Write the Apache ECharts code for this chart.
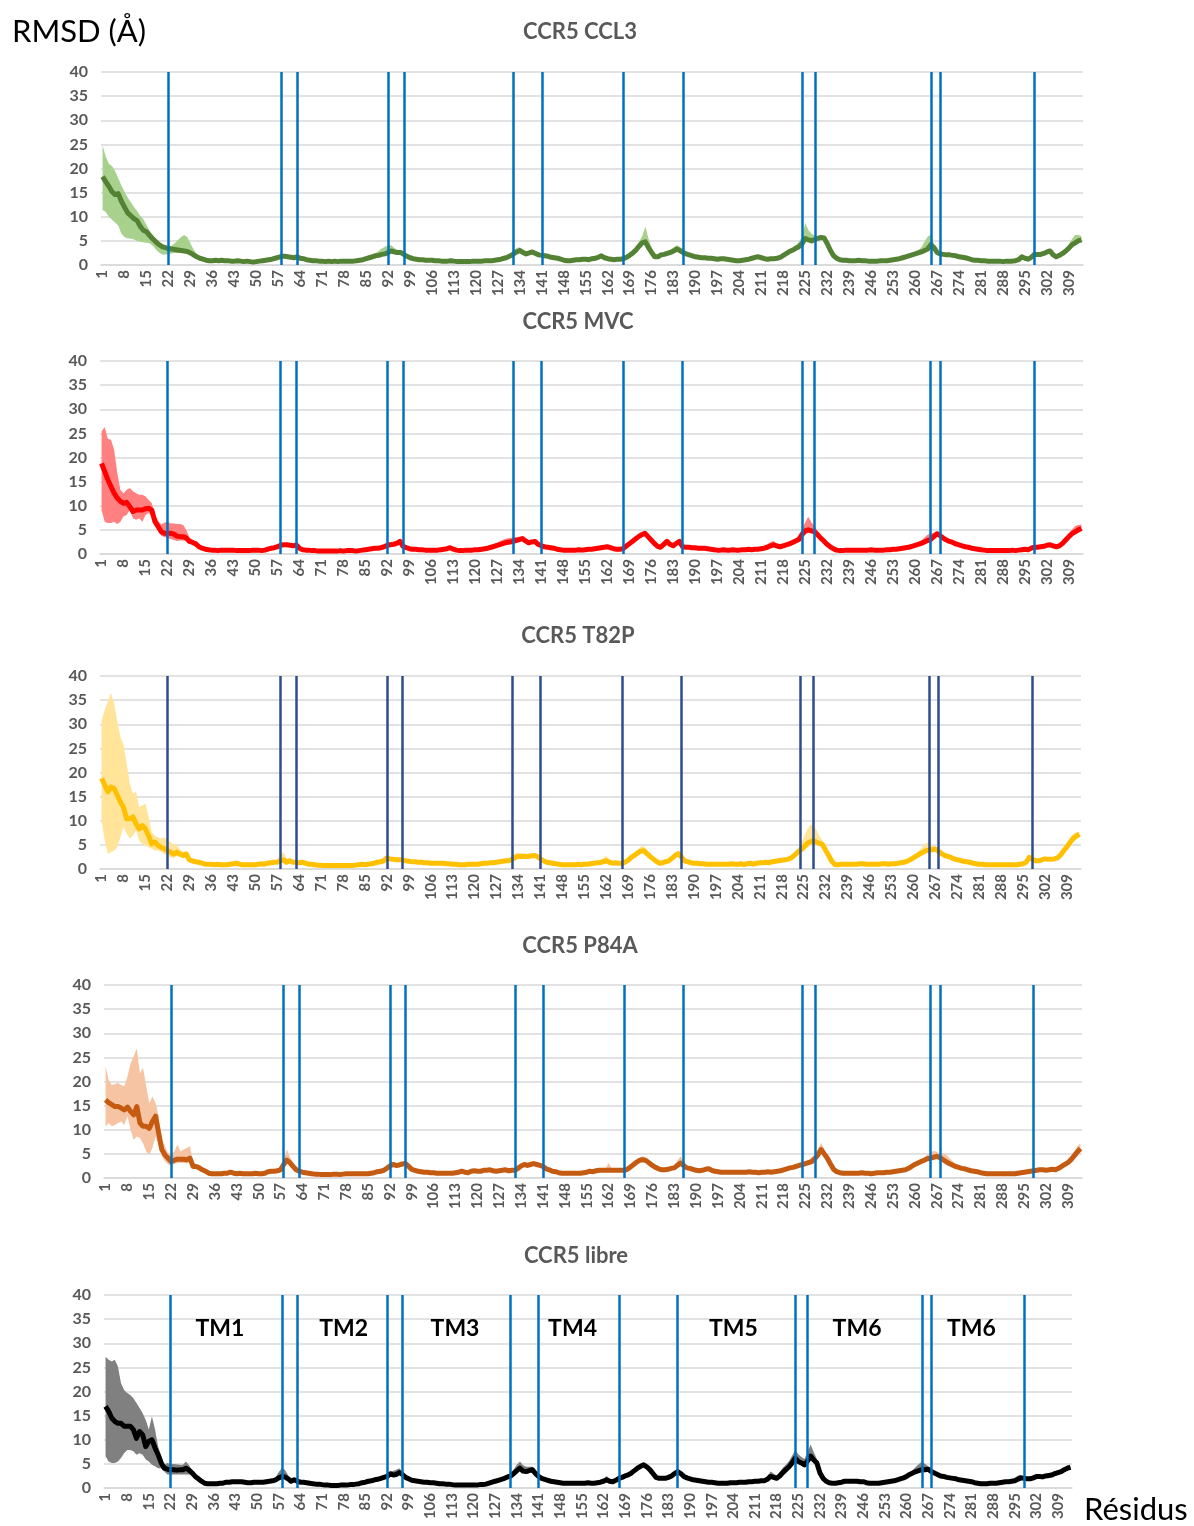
<!DOCTYPE html>
<html><head><meta charset="utf-8">
<script src="https://cdn.jsdelivr.net/npm/echarts/dist/echarts.min.js"></script>
<style>html,body{margin:0;padding:0;background:#fff}#c{width:1194px;height:1526px}</style>
</head><body><div id="c"></div>
<script>
// residue numbers (categories)
const residues = [];
for (let r = 1; r <= 313; r++) residues.push(String(r));

// TM boundary residues (vertical lines)
const tmBounds = [22, 58, 63, 92, 97, 132, 141, 167, 186, 224, 228, 265, 268, 298];
// TM labels (panel "CCR5 libre") and the residue they sit over
const tmNames = ['TM1','TM2','TM3','TM4','TM5','TM6','TM6'];
const tmAt = ['38','78','114','152','204','244','281'];
const tmLabelValue = 33;

// ---------- CCR5 CCL3 ----------
const ccl3 = [
18.3,17.3,16.3,15.2,14.6,14.8,13.2,12.0,10.8,10.2,
9.6,9.2,8.0,7.2,6.9,6.1,5.4,4.8,4.2,3.8,
3.6,3.4,3.3,3.2,3.1,3.0,2.9,2.8,2.5,2.1,
1.7,1.4,1.2,1.0,0.9,0.9,1.0,0.9,1.0,0.9,
0.9,0.8,0.8,0.9,0.8,0.7,0.8,0.7,0.6,0.7,
0.8,0.9,1.0,1.1,1.2,1.4,1.6,1.8,1.8,1.7,
1.6,1.5,1.7,1.4,1.3,1.1,1.0,0.9,0.9,0.8,
0.8,0.7,0.8,0.7,0.8,0.7,0.8,0.8,0.8,0.8,
0.8,0.9,1.0,1.1,1.3,1.5,1.7,1.9,2.0,2.2,
2.3,2.6,2.9,2.7,2.6,2.6,2.2,1.8,1.5,1.3,
1.2,1.1,1.1,1.0,1.0,1.0,0.9,0.9,0.8,0.8,
0.8,0.9,0.8,0.7,0.7,0.7,0.7,0.7,0.8,0.8,
0.8,0.8,0.9,0.9,0.9,1.0,1.1,1.2,1.4,1.6,
1.9,2.3,2.7,3.0,2.6,2.3,2.5,2.7,2.4,2.1,
2.0,1.9,1.8,1.6,1.5,1.4,1.2,1.0,0.9,0.9,
1.0,1.1,1.1,1.2,1.2,1.1,1.3,1.4,1.6,1.9,
1.5,1.3,1.2,1.1,1.2,1.2,1.3,1.6,2.0,2.5,
3.1,3.9,4.6,4.8,3.6,2.6,1.7,1.7,2.1,2.2,
2.4,2.6,2.9,3.3,3.0,2.6,2.3,2.1,1.9,1.7,
1.6,1.5,1.5,1.4,1.4,1.3,1.2,1.3,1.3,1.2,
1.1,1.0,0.9,0.9,1.0,1.1,1.2,1.4,1.6,1.7,
1.5,1.3,1.2,1.3,1.3,1.4,1.6,2.0,2.4,2.8,
3.1,3.5,3.8,4.5,5.5,5.2,5.0,5.3,5.5,5.7,
5.6,4.4,3.0,1.9,1.4,1.1,1.0,1.0,0.9,0.9,
0.9,1.0,0.9,0.9,0.8,0.8,0.8,0.8,0.9,0.9,
0.9,1.0,1.1,1.2,1.3,1.5,1.7,1.9,2.1,2.3,
2.5,2.7,3.0,3.3,4.2,3.6,2.6,2.3,2.2,2.1,
2.1,2.0,1.9,1.7,1.6,1.5,1.3,1.1,1.0,1.0,
0.9,0.9,0.8,0.8,0.8,0.8,0.8,0.7,0.8,0.8,
0.8,0.9,1.1,1.7,1.4,1.2,1.6,2.2,2.2,2.2,
2.4,2.7,2.9,2.1,1.7,2.0,2.4,2.9,3.5,4.2,
4.6,5.0,5.2];
const ccl3Hi = [
6.5,5.2,4.7,5.3,4.9,3.2,3.3,3.2,3.2,2.8,
2.4,2.0,2.2,2.3,1.4,1.0,0.8,0.6,0.5,0.4,
0.3,0.4,0.7,1.3,2.1,2.8,3.3,3.0,2.0,1.1,
0.6,0.4,0.3,0.3,0.3,0.3,0.3,0.3,0.3,0.3,
0.3,0.3,0.3,0.3,0.3,0.3,0.3,0.3,0.3,0.3,
0.3,0.3,0.3,0.3,0.3,0.3,0.3,0.4,0.4,0.3,
0.3,0.3,0.3,0.3,0.3,0.3,0.3,0.3,0.3,0.3,
0.3,0.3,0.3,0.3,0.3,0.3,0.3,0.3,0.3,0.3,
0.3,0.3,0.3,0.4,0.4,0.5,0.6,0.6,0.9,1.2,
1.5,1.5,1.2,0.8,0.5,0.4,0.3,0.3,0.3,0.3,
0.3,0.3,0.3,0.3,0.3,0.3,0.3,0.3,0.3,0.3,
0.3,0.3,0.3,0.3,0.3,0.3,0.3,0.3,0.3,0.3,
0.3,0.3,0.3,0.3,0.3,0.3,0.3,0.3,0.3,0.3,
0.4,0.6,0.8,0.7,0.6,0.5,0.4,0.4,0.3,0.3,
0.3,0.3,0.3,0.3,0.3,0.3,0.3,0.3,0.3,0.3,
0.3,0.3,0.3,0.3,0.3,0.3,0.3,0.3,0.3,0.3,
0.3,0.3,0.3,0.3,0.3,0.3,0.3,0.3,0.4,0.6,
0.6,0.9,1.4,3.2,1.9,1.0,0.5,0.4,0.3,0.3,
0.4,0.6,0.8,0.8,0.8,0.7,0.5,0.4,0.3,0.3,
0.3,0.3,0.3,0.3,0.3,0.3,0.3,0.3,0.3,0.3,
0.3,0.3,0.3,0.3,0.3,0.3,0.3,0.3,0.3,0.3,
0.3,0.3,0.3,0.3,0.3,0.3,0.3,0.3,0.4,0.5,
0.5,0.6,1.0,1.5,3.2,2.0,1.5,0.8,0.5,0.4,
0.3,0.3,0.3,0.3,0.3,0.3,0.3,0.3,0.3,0.3,
0.3,0.3,0.3,0.3,0.3,0.3,0.3,0.3,0.3,0.3,
0.3,0.3,0.3,0.3,0.3,0.3,0.3,0.3,0.3,0.3,
0.6,1.0,1.8,2.6,2.0,0.8,0.4,0.3,0.3,0.3,
0.3,0.3,0.3,0.3,0.3,0.3,0.3,0.3,0.3,0.3,
0.3,0.3,0.3,0.3,0.3,0.3,0.3,0.3,0.3,0.3,
0.3,0.3,0.3,0.3,0.3,0.3,0.3,0.3,0.3,0.3,
0.3,0.3,0.3,0.3,0.3,0.3,0.4,0.5,0.8,1.2,
1.6,1.2,0.8];
const ccl3Lo = [
6.9,6.3,6.3,5.8,5.8,6.6,6.7,6.2,5.3,4.7,
4.3,4.2,3.2,2.5,2.3,1.6,1.4,1.6,1.6,1.6,
1.4,1.1,0.9,0.7,0.6,0.5,0.4,0.3,0.3,0.3,
0.3,0.3,0.3,0.3,0.3,0.3,0.3,0.3,0.3,0.3,
0.3,0.3,0.3,0.3,0.3,0.3,0.3,0.3,0.3,0.3,
0.3,0.3,0.3,0.3,0.3,0.3,0.3,0.3,0.3,0.3,
0.3,0.3,0.3,0.3,0.3,0.3,0.3,0.3,0.3,0.3,
0.3,0.3,0.3,0.3,0.3,0.3,0.3,0.3,0.3,0.3,
0.3,0.3,0.3,0.3,0.3,0.3,0.3,0.3,0.3,0.3,
0.3,0.3,0.3,0.3,0.3,0.3,0.3,0.3,0.3,0.3,
0.3,0.3,0.3,0.3,0.3,0.3,0.3,0.3,0.3,0.3,
0.3,0.3,0.3,0.3,0.3,0.3,0.3,0.3,0.3,0.3,
0.3,0.3,0.3,0.3,0.3,0.3,0.3,0.3,0.3,0.3,
0.3,0.3,0.3,0.3,0.3,0.3,0.3,0.3,0.3,0.3,
0.3,0.3,0.3,0.3,0.3,0.3,0.3,0.3,0.3,0.3,
0.3,0.3,0.3,0.3,0.3,0.3,0.3,0.3,0.3,0.3,
0.3,0.3,0.3,0.3,0.3,0.3,0.3,0.3,0.3,0.3,
0.3,0.3,0.3,0.3,0.3,0.3,0.3,0.3,0.3,0.3,
0.3,0.3,0.3,0.3,0.3,0.3,0.3,0.3,0.3,0.3,
0.3,0.3,0.3,0.3,0.3,0.3,0.3,0.3,0.3,0.3,
0.3,0.3,0.3,0.3,0.3,0.3,0.3,0.3,0.3,0.3,
0.3,0.3,0.3,0.3,0.3,0.3,0.3,0.3,0.3,0.3,
0.3,0.3,0.3,0.3,0.3,0.3,0.3,0.3,0.3,0.3,
0.3,0.3,0.3,0.3,0.3,0.3,0.3,0.3,0.3,0.3,
0.3,0.3,0.3,0.3,0.3,0.3,0.3,0.3,0.3,0.3,
0.3,0.3,0.3,0.3,0.3,0.3,0.3,0.3,0.3,0.3,
0.3,0.3,0.3,0.3,0.3,0.3,0.3,0.3,0.3,0.3,
0.3,0.3,0.3,0.3,0.3,0.3,0.3,0.3,0.3,0.3,
0.3,0.3,0.3,0.3,0.3,0.3,0.3,0.3,0.3,0.3,
0.3,0.3,0.3,0.3,0.3,0.3,0.3,0.3,0.3,0.3,
0.3,0.3,0.3,0.3,0.3,0.3,0.3,0.3,0.3,0.3,
0.3,0.3,0.3];

// ---------- CCR5 MVC ----------
const mvc = [
18.8,17.1,15.4,14.0,12.6,11.6,10.9,10.5,10.7,9.8,
8.8,9.1,9.1,9.1,9.4,9.5,9.1,6.7,5.7,4.6,
4.3,4.3,4.3,4.1,3.7,3.6,3.6,3.3,2.6,2.4,
2.1,1.5,1.2,1.0,0.9,0.8,0.8,0.7,0.8,0.8,
0.8,0.8,0.8,0.7,0.7,0.7,0.7,0.7,0.8,0.8,
0.8,0.7,0.8,1.0,1.2,1.3,1.5,1.8,1.9,1.9,
1.8,1.7,1.9,1.2,0.9,0.8,0.8,0.7,0.7,0.6,
0.6,0.6,0.6,0.6,0.6,0.6,0.7,0.6,0.7,0.7,
0.7,0.6,0.7,0.8,0.9,1.0,1.1,1.2,1.2,1.3,
1.5,1.8,1.9,2.0,2.2,2.6,1.6,1.3,1.1,1.0,
1.0,0.9,0.9,0.8,0.8,0.8,0.8,0.8,0.9,1.0,
1.1,1.3,1.0,0.8,0.7,0.7,0.8,0.8,0.8,0.9,
0.9,1.0,1.1,1.2,1.4,1.6,1.8,2.0,2.2,2.4,
2.5,2.6,2.8,3.0,3.2,2.7,2.3,2.5,2.6,2.0,
1.7,1.5,1.4,1.3,1.2,1.0,0.9,0.8,0.8,0.8,
0.8,0.8,0.9,0.8,0.9,1.0,1.0,1.1,1.2,1.3,
1.4,1.5,1.3,1.1,1.0,1.0,1.1,1.6,2.1,2.6,
3.1,3.6,4.0,4.3,3.6,2.9,2.2,1.6,1.4,2.0,
2.6,2.0,1.7,2.2,2.6,1.5,1.4,1.4,1.3,1.3,
1.2,1.2,1.2,1.1,1.0,0.9,0.8,0.8,0.9,0.8,
0.8,0.9,0.8,0.8,0.9,0.9,1.0,0.9,1.0,1.0,
1.1,1.2,1.4,1.7,1.9,1.7,1.5,1.7,1.9,2.1,
2.4,2.7,3.0,4.0,4.8,5.0,4.8,4.6,4.0,3.3,
2.7,2.0,1.5,1.1,0.8,0.7,0.7,0.8,0.8,0.8,
0.8,0.8,0.8,0.8,0.8,0.9,0.8,0.8,0.8,0.8,
0.9,0.9,1.0,1.0,1.1,1.2,1.3,1.4,1.6,1.8,
2.0,2.2,2.5,2.8,3.0,3.6,4.2,3.8,3.3,2.9,
2.6,2.4,2.1,1.9,1.7,1.5,1.4,1.2,1.1,1.0,
0.9,0.8,0.7,0.7,0.7,0.7,0.7,0.7,0.7,0.7,
0.8,0.7,0.8,0.9,1.0,0.9,1.2,1.4,1.4,1.5,
1.6,1.8,1.9,1.7,1.5,1.7,2.2,2.9,3.6,4.2,
4.6,5.0,5.3];
const mvcHi = [
6.6,9.2,8.5,9.7,9.0,5.2,2.4,2.1,2.6,3.9,
4.2,3.5,3.2,3.2,2.5,1.7,1.4,1.4,1.2,1.5,
2.2,2.4,2.0,2.2,2.5,2.6,2.4,1.6,0.8,0.5,
0.3,0.3,0.3,0.3,0.3,0.3,0.3,0.3,0.3,0.3,
0.3,0.3,0.3,0.3,0.3,0.3,0.3,0.3,0.3,0.3,
0.3,0.3,0.3,0.3,0.3,0.3,0.3,0.3,0.3,0.3,
0.3,0.3,0.3,0.3,0.3,0.3,0.3,0.3,0.3,0.3,
0.3,0.3,0.3,0.3,0.3,0.3,0.3,0.3,0.3,0.3,
0.3,0.3,0.3,0.3,0.3,0.3,0.3,0.3,0.3,0.3,
0.4,0.5,0.6,0.6,0.6,0.5,0.4,0.3,0.3,0.3,
0.3,0.3,0.3,0.3,0.3,0.3,0.3,0.3,0.3,0.3,
0.3,0.3,0.3,0.3,0.3,0.3,0.3,0.3,0.3,0.3,
0.3,0.3,0.3,0.3,0.4,0.5,0.6,0.7,0.8,0.8,
0.8,0.8,0.7,0.6,0.4,0.4,0.3,0.3,0.3,0.3,
0.3,0.3,0.3,0.3,0.3,0.3,0.3,0.3,0.3,0.3,
0.3,0.3,0.3,0.3,0.3,0.3,0.3,0.3,0.3,0.3,
0.3,0.3,0.3,0.3,0.3,0.3,0.3,0.3,0.3,0.3,
0.3,0.3,0.3,0.4,0.3,0.3,0.3,0.3,0.3,0.5,
0.5,0.5,0.3,0.4,0.4,0.3,0.3,0.3,0.3,0.3,
0.3,0.3,0.3,0.3,0.3,0.3,0.3,0.3,0.3,0.3,
0.3,0.3,0.3,0.3,0.3,0.3,0.3,0.3,0.3,0.3,
0.3,0.4,0.6,0.8,0.8,0.5,0.3,0.3,0.3,0.4,
0.4,0.5,0.8,1.2,1.7,2.7,1.8,1.2,0.8,0.5,
0.3,0.3,0.3,0.3,0.3,0.3,0.3,0.3,0.3,0.3,
0.3,0.3,0.3,0.3,0.3,0.3,0.3,0.3,0.3,0.3,
0.3,0.3,0.3,0.3,0.3,0.3,0.3,0.3,0.3,0.3,
0.4,0.6,0.9,1.2,1.2,0.8,0.4,0.3,0.3,0.3,
0.3,0.3,0.3,0.3,0.3,0.3,0.3,0.3,0.3,0.3,
0.3,0.3,0.3,0.3,0.3,0.3,0.3,0.3,0.3,0.3,
0.3,0.3,0.3,0.3,0.3,0.3,0.3,0.3,0.3,0.3,
0.3,0.3,0.3,0.3,0.3,0.3,0.4,0.5,0.7,0.9,
1.2,1.0,0.8];
const mvcLo = [
9.7,10.4,9.0,7.6,5.9,5.4,4.2,2.7,2.6,0.7,
1.4,2.0,1.7,2.4,1.3,1.0,1.3,1.0,0.8,0.8,
0.8,1.0,1.2,1.2,1.0,0.8,0.8,0.6,0.4,0.3,
0.3,0.3,0.3,0.3,0.3,0.3,0.3,0.3,0.3,0.3,
0.3,0.3,0.3,0.3,0.3,0.3,0.3,0.3,0.3,0.3,
0.3,0.3,0.3,0.3,0.3,0.3,0.3,0.3,0.3,0.3,
0.3,0.3,0.3,0.3,0.3,0.3,0.3,0.3,0.3,0.3,
0.3,0.3,0.3,0.3,0.3,0.3,0.3,0.3,0.3,0.3,
0.3,0.3,0.3,0.3,0.3,0.3,0.3,0.3,0.3,0.3,
0.3,0.3,0.3,0.3,0.3,0.3,0.3,0.3,0.3,0.3,
0.3,0.3,0.3,0.3,0.3,0.3,0.3,0.3,0.3,0.3,
0.3,0.3,0.3,0.3,0.3,0.3,0.3,0.3,0.3,0.3,
0.3,0.3,0.3,0.3,0.3,0.3,0.3,0.3,0.3,0.3,
0.3,0.3,0.3,0.3,0.3,0.3,0.3,0.3,0.3,0.3,
0.3,0.3,0.3,0.3,0.3,0.3,0.3,0.3,0.3,0.3,
0.3,0.3,0.3,0.3,0.3,0.3,0.3,0.3,0.3,0.3,
0.3,0.3,0.3,0.3,0.3,0.3,0.3,0.3,0.3,0.3,
0.3,0.3,0.3,0.3,0.3,0.3,0.3,0.3,0.3,0.3,
0.3,0.3,0.3,0.3,0.3,0.3,0.3,0.3,0.3,0.3,
0.3,0.3,0.3,0.3,0.3,0.3,0.3,0.3,0.3,0.3,
0.3,0.3,0.3,0.3,0.3,0.3,0.3,0.3,0.3,0.3,
0.3,0.3,0.3,0.3,0.3,0.3,0.3,0.3,0.3,0.3,
0.3,0.3,0.3,0.6,0.8,0.6,0.4,0.3,0.3,0.3,
0.3,0.3,0.3,0.3,0.3,0.3,0.3,0.3,0.3,0.3,
0.3,0.3,0.3,0.3,0.3,0.3,0.3,0.3,0.3,0.3,
0.3,0.3,0.3,0.3,0.3,0.3,0.3,0.3,0.3,0.3,
0.3,0.3,0.3,0.3,0.3,0.3,0.3,0.3,0.3,0.3,
0.3,0.3,0.3,0.3,0.3,0.3,0.3,0.3,0.3,0.3,
0.3,0.3,0.3,0.3,0.3,0.3,0.3,0.3,0.3,0.3,
0.3,0.3,0.3,0.3,0.3,0.3,0.3,0.3,0.3,0.3,
0.3,0.3,0.3,0.3,0.3,0.3,0.3,0.3,0.3,0.3,
0.3,0.3,0.3];

// ---------- CCR5 T82P ----------
const t82p = [
18.8,17.4,16.0,17.0,16.7,15.3,13.9,12.8,10.4,10.4,
10.8,9.4,8.3,9.0,8.3,6.9,5.2,5.6,4.9,4.5,
4.2,3.8,3.5,3.1,3.5,3.1,2.8,3.1,1.9,1.7,
1.5,1.4,1.2,1.0,1.0,1.0,0.9,1.0,0.9,0.9,
0.9,1.0,1.1,1.2,1.0,0.9,0.9,0.9,0.9,0.9,
1.0,1.1,1.0,1.2,1.3,1.4,1.4,1.7,1.9,1.4,
1.7,1.4,1.4,1.3,1.4,1.2,1.0,1.0,0.9,0.8,
0.8,0.7,0.7,0.7,0.7,0.7,0.7,0.7,0.7,0.7,
0.7,0.8,0.9,1.0,0.9,1.0,1.1,1.2,1.4,1.5,
1.7,2.3,2.1,2.0,1.9,1.9,1.9,1.7,1.6,1.5,
1.5,1.4,1.4,1.3,1.3,1.2,1.2,1.2,1.2,1.2,
1.1,1.1,1.0,1.0,0.9,0.9,0.9,1.0,1.0,1.0,
1.0,1.1,1.2,1.2,1.3,1.3,1.4,1.5,1.6,1.7,
1.7,2.0,2.4,2.6,2.6,2.6,2.6,2.7,2.8,2.6,
2.1,1.7,1.4,1.3,1.2,1.1,1.0,0.9,0.9,0.9,
0.9,0.9,1.0,0.9,1.0,1.0,1.1,1.2,1.3,1.3,
1.5,1.7,1.4,1.2,1.3,1.2,1.2,1.4,1.8,2.4,
2.8,3.3,3.7,3.8,3.2,2.6,2.1,1.6,1.2,1.3,
1.5,1.7,2.2,2.8,3.2,2.5,1.7,1.5,1.3,1.2,
1.2,1.1,1.1,1.0,1.0,1.0,1.0,1.0,1.0,1.0,
1.0,1.1,1.0,1.0,1.1,0.9,1.1,1.2,1.0,1.2,
1.3,1.3,1.4,1.3,1.5,1.6,1.7,1.8,1.9,2.0,
2.3,2.8,3.4,3.9,4.5,5.2,5.6,5.9,5.6,5.3,
5.1,3.9,2.8,1.6,0.9,0.9,1.0,1.0,1.0,1.0,
1.0,1.0,1.1,1.1,1.0,1.0,1.0,1.0,1.0,1.1,
1.1,1.0,1.1,1.1,1.2,1.3,1.4,1.6,1.9,2.3,
2.7,3.1,3.4,3.8,3.9,4.0,4.1,3.7,3.2,2.8,
2.6,2.4,2.1,1.9,1.8,1.6,1.5,1.4,1.2,1.1,
1.0,1.0,0.9,0.9,0.9,0.9,0.9,0.9,0.9,0.9,
0.9,0.9,0.9,1.0,1.1,1.4,2.4,2.0,1.7,1.7,
1.9,2.1,2.0,2.0,2.1,2.3,2.9,3.8,4.6,5.5,
6.3,6.8,7.2];
const t82pHi = [
12.0,15.6,18.7,19.5,17.7,15.3,13.5,12.9,11.5,7.3,
4.8,6.6,4.5,4.2,5.2,3.9,2.4,1.3,1.7,1.8,
2.4,2.1,2.1,2.1,1.4,1.0,0.8,0.6,0.4,0.3,
0.3,0.3,0.3,0.3,0.3,0.3,0.3,0.3,0.3,0.3,
0.3,0.3,0.3,0.3,0.3,0.3,0.3,0.3,0.3,0.3,
0.3,0.3,0.3,0.3,0.3,0.3,0.5,1.2,1.6,0.8,
0.3,0.3,0.3,0.3,0.3,0.3,0.3,0.3,0.3,0.3,
0.3,0.3,0.3,0.3,0.3,0.3,0.3,0.3,0.3,0.3,
0.3,0.3,0.3,0.3,0.3,0.3,0.3,0.3,0.3,0.3,
0.3,0.5,0.4,0.3,0.3,0.3,0.3,0.3,0.3,0.3,
0.3,0.3,0.3,0.3,0.3,0.3,0.3,0.3,0.3,0.3,
0.3,0.3,0.3,0.3,0.3,0.3,0.3,0.3,0.3,0.3,
0.3,0.3,0.3,0.3,0.3,0.3,0.3,0.3,0.3,0.3,
0.5,0.7,0.8,0.8,0.7,0.6,0.5,0.5,0.4,0.3,
0.3,0.3,0.3,0.3,0.3,0.3,0.3,0.3,0.3,0.3,
0.3,0.3,0.3,0.3,0.3,0.3,0.3,0.3,0.3,0.3,
0.6,1.1,0.6,0.3,0.3,0.3,0.3,0.3,0.3,0.3,
0.4,0.6,0.9,1.0,0.7,0.4,0.3,0.3,0.3,0.3,
0.3,0.3,0.4,0.5,0.4,0.3,0.3,0.3,0.3,0.3,
0.3,0.3,0.3,0.3,0.3,0.3,0.3,0.3,0.3,0.3,
0.3,0.3,0.3,0.3,0.3,0.3,0.3,0.3,0.3,0.3,
0.3,0.3,0.3,0.3,0.3,0.3,0.3,0.3,0.3,0.3,
0.3,0.5,0.8,1.2,2.0,2.8,3.4,3.4,2.6,1.6,
0.8,0.4,0.3,0.3,0.3,0.3,0.3,0.3,0.3,0.3,
0.3,0.3,0.3,0.3,0.3,0.3,0.3,0.3,0.3,0.3,
0.3,0.3,0.3,0.3,0.3,0.3,0.3,0.3,0.3,0.3,
0.5,0.8,1.2,1.6,1.6,1.0,0.6,0.4,0.3,0.3,
0.3,0.3,0.3,0.3,0.3,0.3,0.3,0.3,0.3,0.3,
0.3,0.3,0.3,0.3,0.3,0.3,0.3,0.3,0.3,0.3,
0.3,0.3,0.3,0.3,0.3,0.4,0.6,0.4,0.3,0.3,
0.3,0.3,0.3,0.3,0.3,0.3,0.4,0.5,0.7,0.9,
1.0,0.8,0.5];
const t82pLo = [
8.8,11.5,12.9,13.5,12.9,10.8,7.3,4.1,3.1,4.1,
3.9,1.4,2.4,3.8,3.4,2.4,1.0,1.8,1.0,1.0,
1.1,1.0,1.1,0.8,0.8,0.6,0.5,0.5,0.3,0.3,
0.3,0.3,0.3,0.3,0.3,0.3,0.3,0.3,0.3,0.3,
0.3,0.3,0.3,0.3,0.3,0.3,0.3,0.3,0.3,0.3,
0.3,0.3,0.3,0.3,0.3,0.3,0.3,0.3,0.3,0.3,
0.3,0.3,0.3,0.3,0.3,0.3,0.3,0.3,0.3,0.3,
0.3,0.3,0.3,0.3,0.3,0.3,0.3,0.3,0.3,0.3,
0.3,0.3,0.3,0.3,0.3,0.3,0.3,0.3,0.3,0.3,
0.3,0.3,0.3,0.3,0.3,0.3,0.3,0.3,0.3,0.3,
0.3,0.3,0.3,0.3,0.3,0.3,0.3,0.3,0.3,0.3,
0.3,0.3,0.3,0.3,0.3,0.3,0.3,0.3,0.3,0.3,
0.3,0.3,0.3,0.3,0.3,0.3,0.3,0.3,0.3,0.3,
0.3,0.3,0.3,0.3,0.3,0.3,0.3,0.3,0.3,0.3,
0.3,0.3,0.3,0.3,0.3,0.3,0.3,0.3,0.3,0.3,
0.3,0.3,0.3,0.3,0.3,0.3,0.3,0.3,0.3,0.3,
0.3,0.3,0.3,0.3,0.3,0.3,0.3,0.3,0.3,0.3,
0.3,0.3,0.3,0.3,0.3,0.3,0.3,0.3,0.3,0.3,
0.3,0.3,0.3,0.3,0.3,0.3,0.3,0.3,0.3,0.3,
0.3,0.3,0.3,0.3,0.3,0.3,0.3,0.3,0.3,0.3,
0.3,0.3,0.3,0.3,0.3,0.3,0.3,0.3,0.3,0.3,
0.3,0.3,0.3,0.3,0.3,0.3,0.3,0.3,0.3,0.3,
0.3,0.3,0.4,0.6,0.8,0.9,0.8,0.6,0.4,0.3,
0.3,0.3,0.3,0.3,0.3,0.3,0.3,0.3,0.3,0.3,
0.3,0.3,0.3,0.3,0.3,0.3,0.3,0.3,0.3,0.3,
0.3,0.3,0.3,0.3,0.3,0.3,0.3,0.3,0.3,0.3,
0.3,0.3,0.3,0.3,0.3,0.3,0.3,0.3,0.3,0.3,
0.3,0.3,0.3,0.3,0.3,0.3,0.3,0.3,0.3,0.3,
0.3,0.3,0.3,0.3,0.3,0.3,0.3,0.3,0.3,0.3,
0.3,0.3,0.3,0.3,0.3,0.3,0.3,0.3,0.3,0.3,
0.3,0.3,0.3,0.3,0.3,0.3,0.3,0.3,0.3,0.3,
0.3,0.3,0.3];

// ---------- CCR5 P84A ----------
const p84a = [
16.2,15.6,15.2,14.8,14.8,14.5,14.1,14.7,13.8,13.1,
14.8,11.4,10.7,10.7,10.3,11.7,12.8,9.3,5.9,4.8,
4.1,3.4,3.7,3.9,3.9,3.9,3.8,4.1,2.4,2.4,
2.1,1.7,1.4,1.0,0.9,0.9,0.9,0.9,1.0,1.0,
1.2,1.0,0.9,1.0,0.9,0.9,0.9,0.9,1.0,0.9,
0.9,1.0,1.3,1.4,1.4,1.5,1.7,2.8,3.7,3.2,
2.4,1.7,1.4,1.2,1.1,1.0,0.9,0.8,0.8,0.7,
0.7,0.7,0.7,0.8,0.8,0.7,0.8,0.9,0.9,0.9,
0.9,0.9,0.9,0.9,0.9,1.0,1.1,1.3,1.4,1.6,
2.0,2.5,2.8,2.6,2.7,2.9,3.0,2.4,1.8,1.6,
1.4,1.3,1.2,1.2,1.1,1.1,1.0,1.0,1.0,1.0,
1.0,1.0,1.1,1.2,1.4,1.2,1.1,1.4,1.5,1.4,
1.4,1.6,1.6,1.7,1.5,1.4,1.5,1.6,1.7,1.5,
1.6,1.6,2.0,2.5,2.8,2.6,2.8,3.0,2.8,2.6,
2.4,1.9,1.7,1.4,1.3,1.1,1.0,1.0,1.0,1.0,
1.0,1.0,1.0,1.1,1.2,1.4,1.3,1.5,1.6,1.6,
1.6,1.6,1.6,1.6,1.6,1.6,1.6,1.8,2.3,2.8,
3.3,3.7,3.8,3.6,3.1,2.6,2.2,1.9,1.7,1.7,
1.8,2.0,2.1,2.6,3.1,2.6,2.1,2.0,1.8,1.6,
1.5,1.6,1.8,1.9,1.6,1.4,1.3,1.2,1.2,1.2,
1.2,1.2,1.2,1.2,1.2,1.2,1.3,1.2,1.2,1.1,
1.2,1.2,1.3,1.2,1.3,1.4,1.5,1.7,1.9,2.1,
2.2,2.4,2.6,2.8,3.0,3.2,3.4,4.0,4.8,5.9,
5.0,4.1,2.9,1.8,1.3,1.1,1.0,1.0,1.0,1.0,
1.0,1.0,1.1,1.0,1.0,0.9,1.0,1.1,1.1,1.1,
1.2,1.2,1.3,1.4,1.5,1.6,1.7,2.0,2.4,2.8,
3.1,3.4,3.7,4.0,4.1,4.3,4.5,4.2,3.8,3.4,
3.0,2.7,2.4,2.2,2.0,1.9,1.7,1.5,1.4,1.3,
1.1,1.0,0.9,0.9,0.9,0.9,0.9,0.9,0.9,0.9,
0.9,0.9,1.0,1.1,1.2,1.3,1.4,1.5,1.6,1.7,
1.7,1.6,1.7,1.8,1.7,2.0,2.4,2.8,3.2,3.8,
4.6,5.4,6.1];
const p84aHi = [
6.9,4.7,4.1,4.7,4.9,4.8,4.9,6.3,10.0,12.1,
12.1,10.3,12.1,8.3,5.2,5.2,2.7,3.5,2.0,1.8,
1.1,1.5,1.8,3.0,1.6,2.0,2.4,2.5,1.0,0.5,
0.3,0.3,0.3,0.3,0.3,0.3,0.3,0.3,0.3,0.3,
0.3,0.3,0.3,0.3,0.3,0.3,0.3,0.3,0.3,0.3,
0.3,0.3,0.3,0.3,0.3,0.3,0.5,1.2,2.2,1.2,
0.3,0.3,0.3,0.3,0.3,0.3,0.3,0.3,0.3,0.3,
0.3,0.3,0.3,0.3,0.3,0.3,0.3,0.3,0.3,0.3,
0.3,0.3,0.3,0.3,0.3,0.3,0.3,0.3,0.3,0.3,
0.3,0.4,0.5,0.4,0.3,0.3,0.3,0.3,0.3,0.3,
0.3,0.3,0.3,0.3,0.3,0.3,0.3,0.3,0.3,0.3,
0.3,0.3,0.3,0.3,0.3,0.3,0.3,0.3,0.3,0.3,
0.3,0.3,0.3,0.3,0.3,0.3,0.3,0.3,0.3,0.3,
0.3,0.4,0.5,0.5,0.5,0.4,0.4,0.4,0.3,0.3,
0.3,0.3,0.3,0.3,0.3,0.3,0.3,0.3,0.3,0.3,
0.3,0.3,0.3,0.3,0.3,0.3,0.3,0.3,0.3,0.3,
0.3,1.5,0.4,0.3,0.3,0.3,0.3,0.3,0.3,0.3,
0.4,0.6,0.7,0.6,0.4,0.3,0.3,0.3,0.3,0.3,
0.3,0.4,0.6,1.0,1.4,1.0,0.5,0.3,0.3,0.3,
0.3,0.4,0.5,0.4,0.3,0.3,0.3,0.3,0.3,0.3,
0.3,0.3,0.3,0.3,0.3,0.3,0.3,0.3,0.3,0.3,
0.3,0.3,0.3,0.3,0.3,0.3,0.3,0.3,0.3,0.3,
0.3,0.3,0.3,0.4,0.5,0.6,0.8,1.0,1.2,1.4,
1.0,0.6,0.3,0.3,0.3,0.3,0.3,0.3,0.3,0.3,
0.3,0.3,0.3,0.3,0.3,0.3,0.3,0.3,0.3,0.3,
0.3,0.3,0.3,0.3,0.3,0.3,0.3,0.3,0.3,0.3,
0.4,0.5,0.6,0.8,1.2,1.3,1.0,0.8,1.3,1.5,
1.2,0.8,0.6,0.4,0.3,0.3,0.3,0.3,0.3,0.3,
0.3,0.3,0.3,0.3,0.3,0.3,0.3,0.3,0.3,0.3,
0.3,0.3,0.3,0.3,0.3,0.3,0.3,0.3,0.3,0.3,
0.3,0.3,0.3,0.3,0.3,0.3,0.3,0.4,0.5,0.6,
0.8,1.2,1.1];
const p84aLo = [
5.5,4.2,4.5,3.8,3.4,2.8,3.1,1.9,3.8,5.2,
6.2,3.1,3.5,5.2,5.5,5.5,4.2,2.7,1.4,1.4,
1.3,0.8,0.8,0.8,0.8,0.8,0.8,0.8,0.4,0.3,
0.3,0.3,0.3,0.3,0.3,0.3,0.3,0.3,0.3,0.3,
0.3,0.3,0.3,0.3,0.3,0.3,0.3,0.3,0.3,0.3,
0.3,0.3,0.3,0.3,0.3,0.3,0.3,0.3,0.3,0.3,
0.3,0.3,0.3,0.3,0.3,0.3,0.3,0.3,0.3,0.3,
0.3,0.3,0.3,0.3,0.3,0.3,0.3,0.3,0.3,0.3,
0.3,0.3,0.3,0.3,0.3,0.3,0.3,0.3,0.3,0.3,
0.3,0.3,0.3,0.3,0.3,0.3,0.3,0.3,0.3,0.3,
0.3,0.3,0.3,0.3,0.3,0.3,0.3,0.3,0.3,0.3,
0.3,0.3,0.3,0.3,0.3,0.3,0.3,0.3,0.3,0.3,
0.3,0.3,0.3,0.3,0.3,0.3,0.3,0.3,0.3,0.3,
0.3,0.3,0.3,0.3,0.3,0.3,0.3,0.3,0.3,0.3,
0.3,0.3,0.3,0.3,0.3,0.3,0.3,0.3,0.3,0.3,
0.3,0.3,0.3,0.3,0.3,0.3,0.3,0.3,0.3,0.3,
0.3,0.3,0.3,0.3,0.3,0.3,0.3,0.3,0.3,0.3,
0.3,0.3,0.3,0.3,0.3,0.3,0.3,0.3,0.3,0.3,
0.3,0.3,0.3,0.3,0.3,0.3,0.3,0.3,0.3,0.3,
0.3,0.3,0.3,0.3,0.3,0.3,0.3,0.3,0.3,0.3,
0.3,0.3,0.3,0.3,0.3,0.3,0.3,0.3,0.3,0.3,
0.3,0.3,0.3,0.3,0.3,0.3,0.3,0.3,0.3,0.3,
0.3,0.3,0.3,0.3,0.3,0.3,0.3,0.3,0.3,0.3,
0.3,0.3,0.3,0.3,0.3,0.3,0.3,0.3,0.3,0.3,
0.3,0.3,0.3,0.3,0.3,0.3,0.3,0.3,0.3,0.3,
0.3,0.3,0.3,0.3,0.3,0.3,0.3,0.3,0.3,0.3,
0.3,0.3,0.3,0.3,0.3,0.3,0.3,0.3,0.3,0.3,
0.3,0.3,0.3,0.3,0.3,0.3,0.3,0.3,0.3,0.3,
0.3,0.3,0.3,0.3,0.3,0.3,0.3,0.3,0.3,0.3,
0.3,0.3,0.3,0.3,0.3,0.3,0.3,0.3,0.3,0.3,
0.3,0.3,0.3,0.3,0.3,0.3,0.3,0.3,0.3,0.3,
0.3,0.3,0.3];

// ---------- CCR5 libre ----------
const libre = [
16.9,15.9,14.5,13.8,13.4,13.4,12.8,12.8,12.8,12.1,
10.3,11.7,11.0,8.6,9.7,10.0,8.3,6.9,5.2,4.1,
3.9,3.8,3.8,3.7,3.8,3.8,4.1,3.7,3.1,2.4,
1.9,1.4,1.0,0.9,0.9,0.9,0.9,1.0,1.0,1.2,
1.2,1.3,1.3,1.3,1.3,1.2,1.1,1.1,1.2,1.2,
1.2,1.2,1.3,1.4,1.5,1.7,2.1,2.4,2.3,1.9,
1.4,1.7,1.4,1.2,1.2,1.1,1.0,0.9,0.8,0.8,
0.7,0.6,0.6,0.5,0.5,0.5,0.6,0.6,0.6,0.7,
0.7,0.8,0.9,1.1,1.2,1.4,1.5,1.7,1.8,2.0,
2.2,2.4,2.9,2.7,2.8,3.2,2.8,2.2,1.9,1.6,
1.5,1.4,1.3,1.2,1.2,1.1,1.1,1.0,0.9,0.9,
0.8,0.8,0.7,0.6,0.6,0.6,0.6,0.6,0.6,0.6,
0.6,0.7,0.7,0.8,1.0,1.2,1.4,1.6,1.8,2.0,
2.3,2.5,3.0,3.6,4.1,3.5,3.4,3.6,3.8,3.0,
2.4,2.0,1.8,1.6,1.4,1.3,1.2,1.1,1.0,1.0,
1.0,1.0,1.0,1.0,1.0,1.0,1.1,1.0,1.0,1.1,
1.2,1.4,1.7,1.4,1.3,1.6,2.0,2.2,2.5,2.7,
3.1,3.6,4.1,4.5,4.8,4.4,3.8,3.0,2.2,2.0,
2.0,2.0,2.2,2.5,3.0,3.4,3.0,2.4,2.1,1.9,
1.7,1.6,1.5,1.4,1.3,1.2,1.2,1.1,1.0,1.0,
1.0,1.0,1.1,1.1,1.1,1.2,1.2,1.2,1.3,1.3,
1.4,1.4,1.5,1.5,1.8,2.4,2.2,2.0,2.5,3.2,
3.8,4.4,5.2,6.2,5.5,5.2,4.8,5.6,6.6,5.8,
5.2,3.1,2.0,1.4,1.1,1.0,1.0,1.1,1.2,1.4,
1.4,1.4,1.4,1.4,1.3,1.3,1.1,1.0,1.0,1.0,
1.0,1.1,1.2,1.3,1.4,1.5,1.7,1.9,2.1,2.4,
2.8,3.1,3.4,3.6,3.8,3.8,3.9,3.4,3.1,2.8,
2.5,2.4,2.2,2.1,2.0,1.9,1.7,1.6,1.5,1.4,
1.3,1.1,1.0,0.9,0.9,0.9,1.0,1.0,1.0,1.1,
1.2,1.3,1.3,1.4,1.5,1.8,2.1,2.0,1.9,1.9,
2.1,2.4,2.4,2.3,2.5,2.6,2.7,3.0,3.2,3.4,
3.8,4.1,4.3];
const libreHi = [
10.3,10.7,11.7,12.8,11.8,8.3,7.5,6.9,6.5,6.5,
7.3,4.9,4.5,5.5,2.4,4.8,3.8,1.7,1.4,0.7,
1.3,1.2,1.2,1.2,1.0,1.0,1.4,1.0,0.6,0.4,
0.3,0.3,0.3,0.3,0.3,0.3,0.3,0.3,0.3,0.3,
0.3,0.3,0.3,0.3,0.3,0.3,0.3,0.3,0.3,0.3,
0.3,0.3,0.3,0.3,0.3,0.5,1.2,1.7,1.5,0.8,
0.3,0.3,0.3,0.3,0.3,0.3,0.3,0.3,0.3,0.3,
0.3,0.3,0.3,0.3,0.3,0.3,0.3,0.3,0.3,0.3,
0.3,0.3,0.3,0.3,0.3,0.3,0.3,0.3,0.3,0.3,
0.3,0.4,0.6,0.8,1.0,0.9,0.5,0.3,0.3,0.3,
0.3,0.3,0.3,0.3,0.3,0.3,0.3,0.3,0.3,0.3,
0.3,0.3,0.3,0.3,0.3,0.3,0.3,0.3,0.3,0.3,
0.3,0.3,0.3,0.3,0.3,0.3,0.3,0.3,0.3,0.3,
0.4,0.6,0.9,1.2,1.4,1.2,1.0,0.8,0.6,0.4,
0.3,0.3,0.3,0.3,0.3,0.3,0.3,0.3,0.3,0.3,
0.3,0.3,0.3,0.3,0.3,0.3,0.3,0.3,0.3,0.3,
0.3,0.4,0.8,0.5,0.4,0.4,0.5,0.4,0.3,0.3,
0.3,0.3,0.3,0.3,0.3,0.3,0.3,0.3,0.3,0.3,
0.3,0.3,0.3,0.3,0.3,0.3,0.3,0.3,0.3,0.3,
0.3,0.3,0.3,0.3,0.3,0.3,0.3,0.3,0.3,0.3,
0.3,0.3,0.3,0.3,0.3,0.3,0.3,0.3,0.3,0.3,
0.3,0.3,0.3,0.4,0.6,1.0,0.8,0.6,0.8,1.0,
1.0,1.2,1.5,1.7,1.5,1.2,1.2,1.8,2.4,1.6,
0.8,0.4,0.3,0.3,0.3,0.3,0.3,0.3,0.3,0.3,
0.3,0.3,0.3,0.3,0.3,0.3,0.3,0.3,0.3,0.3,
0.3,0.3,0.3,0.3,0.3,0.3,0.3,0.3,0.3,0.3,
0.4,0.6,1.0,1.4,1.7,1.2,0.6,0.4,0.3,0.3,
0.3,0.3,0.3,0.3,0.3,0.3,0.3,0.3,0.3,0.3,
0.3,0.3,0.3,0.3,0.3,0.3,0.3,0.3,0.3,0.3,
0.3,0.3,0.3,0.4,0.6,0.8,0.6,0.4,0.3,0.3,
0.3,0.3,0.3,0.4,0.4,0.5,0.5,0.5,0.4,0.3,
0.3,0.3,0.3];
const libreLo = [
10.3,10.4,9.3,8.6,7.9,7.2,5.6,4.9,4.9,4.5,
3.4,4.5,4.1,2.7,4.2,5.2,3.8,2.8,1.1,0.7,
1.1,1.0,1.0,0.9,1.0,1.0,1.3,0.9,0.5,0.3,
0.3,0.3,0.3,0.3,0.3,0.3,0.3,0.3,0.3,0.3,
0.3,0.3,0.3,0.3,0.3,0.3,0.3,0.3,0.3,0.3,
0.3,0.3,0.3,0.3,0.3,0.3,0.3,0.3,0.3,0.3,
0.3,0.3,0.3,0.3,0.3,0.3,0.3,0.3,0.3,0.3,
0.3,0.3,0.3,0.3,0.3,0.3,0.3,0.3,0.3,0.3,
0.3,0.3,0.3,0.3,0.3,0.3,0.3,0.3,0.3,0.3,
0.3,0.3,0.3,0.3,0.3,0.3,0.3,0.3,0.3,0.3,
0.3,0.3,0.3,0.3,0.3,0.3,0.3,0.3,0.3,0.3,
0.3,0.3,0.3,0.3,0.3,0.3,0.3,0.3,0.3,0.3,
0.3,0.3,0.3,0.3,0.3,0.3,0.3,0.3,0.3,0.3,
0.3,0.3,0.3,0.3,0.3,0.3,0.3,0.3,0.3,0.3,
0.3,0.3,0.3,0.3,0.3,0.3,0.3,0.3,0.3,0.3,
0.3,0.3,0.3,0.3,0.3,0.3,0.3,0.3,0.3,0.3,
0.3,0.3,0.3,0.3,0.3,0.3,0.3,0.3,0.3,0.3,
0.3,0.3,0.3,0.3,0.3,0.3,0.3,0.3,0.3,0.3,
0.3,0.3,0.3,0.3,0.3,0.3,0.3,0.3,0.3,0.3,
0.3,0.3,0.3,0.3,0.3,0.3,0.3,0.3,0.3,0.3,
0.3,0.3,0.3,0.3,0.3,0.3,0.3,0.3,0.3,0.3,
0.3,0.3,0.3,0.3,0.3,0.3,0.3,0.3,0.3,0.3,
0.3,0.3,0.4,0.6,0.5,0.5,0.5,0.6,0.6,0.4,
0.3,0.3,0.3,0.3,0.3,0.3,0.3,0.3,0.3,0.3,
0.3,0.3,0.3,0.3,0.3,0.3,0.3,0.3,0.3,0.3,
0.3,0.3,0.3,0.3,0.3,0.3,0.3,0.3,0.3,0.3,
0.3,0.3,0.3,0.3,0.3,0.3,0.3,0.3,0.3,0.3,
0.3,0.3,0.3,0.3,0.3,0.3,0.3,0.3,0.3,0.3,
0.3,0.3,0.3,0.3,0.3,0.3,0.3,0.3,0.3,0.3,
0.3,0.3,0.3,0.3,0.3,0.3,0.3,0.3,0.3,0.3,
0.3,0.3,0.3,0.3,0.3,0.3,0.3,0.3,0.3,0.3,
0.3,0.3,0.3];

// ---------- layout / style ----------
const FONT = 'Lato, "Open Sans", sans-serif';
const panels = [
  {title:'CCR5 CCL3',  L:ccl3,  hi:ccl3Hi,  lo:ccl3Lo,  line:'#548235', band:'#A9D18E', vline:'#0070C0', left:101, top:72,   width:982, tx:580, ty:32},
  {title:'CCR5 MVC',   L:mvc,   hi:mvcHi,   lo:mvcLo,   line:'#FF0000', band:'#FF8080', vline:'#0070C0', left:100, top:361,  width:983, tx:578, ty:322},
  {title:'CCR5 T82P',  L:t82p,  hi:t82pHi,  lo:t82pLo,  line:'#FFC000', band:'#FFE499', vline:'#2E4D8F', left:100, top:676,  width:981, tx:578, ty:636},
  {title:'CCR5 P84A',  L:p84a,  hi:p84aHi,  lo:p84aLo,  line:'#C55A11', band:'#F6C4A2', vline:'#0070C0', left:104, top:985,  width:978, tx:580, ty:946},
  {title:'CCR5 libre', L:libre, hi:libreHi, lo:libreLo, line:'#000000', band:'#808080', vline:'#0070C0', left:104, top:1295, width:968, tx:576, ty:1256}
];

const grid = [], xAxis = [], yAxis = [], series = [], graphic = [];
panels.forEach((p, i) => {
  grid.push({left:p.left, top:p.top, width:p.width, height:193});
  xAxis.push({
    type:'category', gridIndex:i, data:residues, boundaryGap:true,
    axisLine:{show:true, lineStyle:{color:'#D9D9D9', width:1.5}},
    axisTick:{show:false},
    axisLabel:{interval:6, rotate:90, fontSize:15, fontWeight:'bold', color:'#595959', margin:5, fontFamily:FONT},
    splitLine:{show:false}
  });
  yAxis.push({
    type:'value', gridIndex:i, min:0, max:40, interval:5,
    axisLine:{show:false}, axisTick:{show:false},
    axisLabel:{fontSize:16, fontWeight:'bold', color:'#595959', margin:13, fontFamily:FONT},
    splitLine:{lineStyle:{color:'#D9D9D9', width:1.5}}
  });
  const base = p.L.map((v, k) => +(v - p.lo[k]).toFixed(2));
  const spread = p.L.map((v, k) => +(p.hi[k] + p.lo[k]).toFixed(2));
  series.push({type:'line', xAxisIndex:i, yAxisIndex:i, stack:'band'+i, data:base, symbol:'none', silent:true,
    lineStyle:{width:0, opacity:0}, areaStyle:{opacity:0}, z:1});
  series.push({type:'line', xAxisIndex:i, yAxisIndex:i, stack:'band'+i, data:spread, symbol:'none', silent:true,
    lineStyle:{width:0, opacity:0}, areaStyle:{color:p.band, opacity:1}, z:2});
  const s = {type:'line', xAxisIndex:i, yAxisIndex:i, data:p.L, symbol:'none', silent:true, z:4,
    lineStyle:{color:p.line, width:5, join:'round'},
    markLine:{silent:true, symbol:['none','none'], label:{show:false}, animation:false,
      lineStyle:{color:p.vline, width:2.5, type:'solid', opacity:1},
      data: tmBounds.map(r => ({xAxis:String(r)}))}
  };
  if (i === 4) {
    s.markPoint = {symbol:'circle', symbolSize:1, itemStyle:{color:'rgba(0,0,0,0)'}, animation:false,
      label:{show:true, position:'inside', formatter:'{b}', fontSize:23, fontWeight:'bold', color:'#000', fontFamily:FONT},
      data: tmNames.map((n, k) => ({name:n, coord:[tmAt[k], tmLabelValue]}))};
  }
  series.push(s);
  graphic.push({type:'text', x:p.tx, y:p.ty,
    style:{text:p.title, fill:'#595959', font:'bold 22px ' + FONT, textAlign:'center', textVerticalAlign:'middle', align:'center', verticalAlign:'middle'}});
});
graphic.push({type:'text', x:12, y:32,
  style:{text:'RMSD (Å)', fill:'#000', font:'31px ' + FONT, textAlign:'left', textVerticalAlign:'middle', align:'left', verticalAlign:'middle'}});
graphic.push({type:'text', x:1084, y:1510,
  style:{text:'Résidus', fill:'#000', font:'31px ' + FONT, textAlign:'left', textVerticalAlign:'middle', align:'left', verticalAlign:'middle'}});

const chart = echarts.init(document.getElementById('c'), null, {renderer:'canvas'});
chart.setOption({animation:false, backgroundColor:'#fff', grid, xAxis, yAxis, series, graphic});
</script></body></html>
